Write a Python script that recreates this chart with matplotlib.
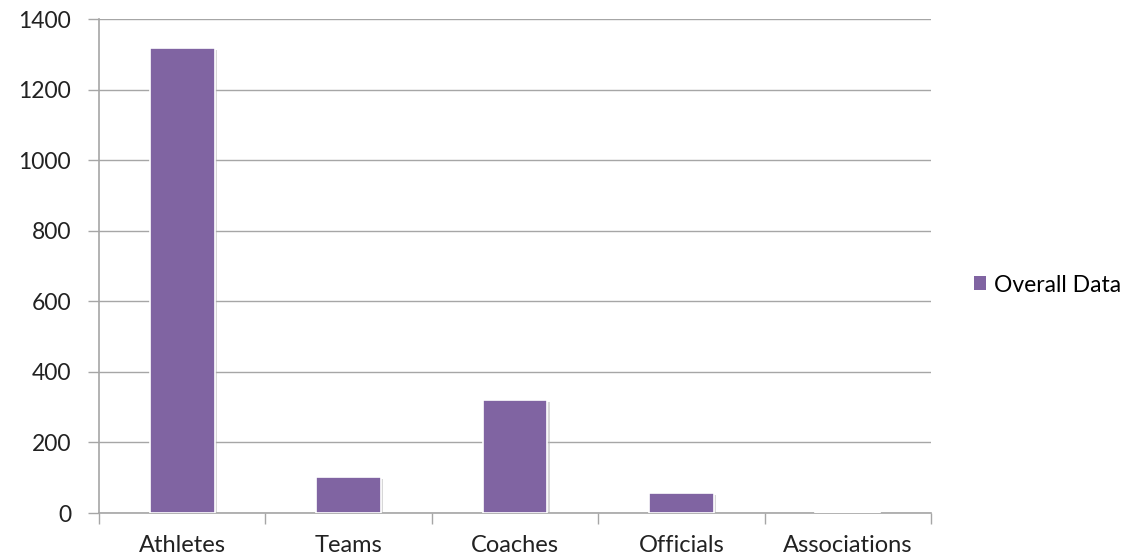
import matplotlib
matplotlib.use("Agg")
import matplotlib.pyplot as plt
import matplotlib.patheffects as pe

categories = ["Athletes", "Teams", "Coaches", "Officials", "Associations"]
values = [1317, 103, 321, 58, 2]
yticks = [0, 200, 400, 600, 800, 1000, 1200, 1400]

plt.rcParams['font.family'] = ['Lato', 'DejaVu Sans']

fig = plt.figure(figsize=(11.31, 5.6), dpi=100)
ax = fig.add_axes([99/1131, 47/560, 832/1131, 494/560])

grid_color = "#a6a6a6"
x = list(range(len(categories)))
bars = ax.bar(x, values, width=0.39, color="#8064A2", edgecolor="white",
              linewidth=1.2, zorder=3, label="Overall Data")
for b in bars:
    b.set_path_effects([pe.SimplePatchShadow(offset=(1.5, -1.5), shadow_rgbFace="#b0b0b0", alpha=0.5),
                        pe.Normal()])

ax.set_xlim(-0.5, len(categories) - 0.5)
ax.set_ylim(0, 1400)
ax.set_yticks(yticks)
ax.set_yticklabels([str(t) for t in yticks])
ax.yaxis.grid(True, color=grid_color, linewidth=1)
ax.set_axisbelow(True)

# category boundaries get the tick marks, names sit between them
ax.set_xticks([i - 0.5 for i in range(len(categories) + 1)], minor=False)
ax.set_xticklabels([])
ax.set_xticks(x, minor=True)
ax.set_xticklabels(categories, minor=True)
ax.tick_params(axis='x', which='major', length=8, color=grid_color, width=1)
ax.tick_params(axis='x', which='minor', length=0, labelsize=17, pad=16, labelcolor="#222222")
ax.tick_params(axis='y', length=8, color=grid_color, width=1, labelsize=16.5, pad=12, labelcolor="#222222")

for s in ["top", "right"]:
    ax.spines[s].set_visible(False)
for s in ["left", "bottom"]:
    ax.spines[s].set_color(grid_color)
    ax.spines[s].set_linewidth(1.2)

leg = fig.legend(handles=[bars], labels=["Overall Data"], loc="center left",
                 bbox_to_anchor=(953/1131, 1 - 285/560), frameon=False,
                 fontsize=16.5, handlelength=0.55, handleheight=0.55, handletextpad=0.35)
for h in leg.legend_handles:
    h.set_path_effects([])
    h.set_edgecolor("none")

plt.savefig("out.png", dpi=100)
